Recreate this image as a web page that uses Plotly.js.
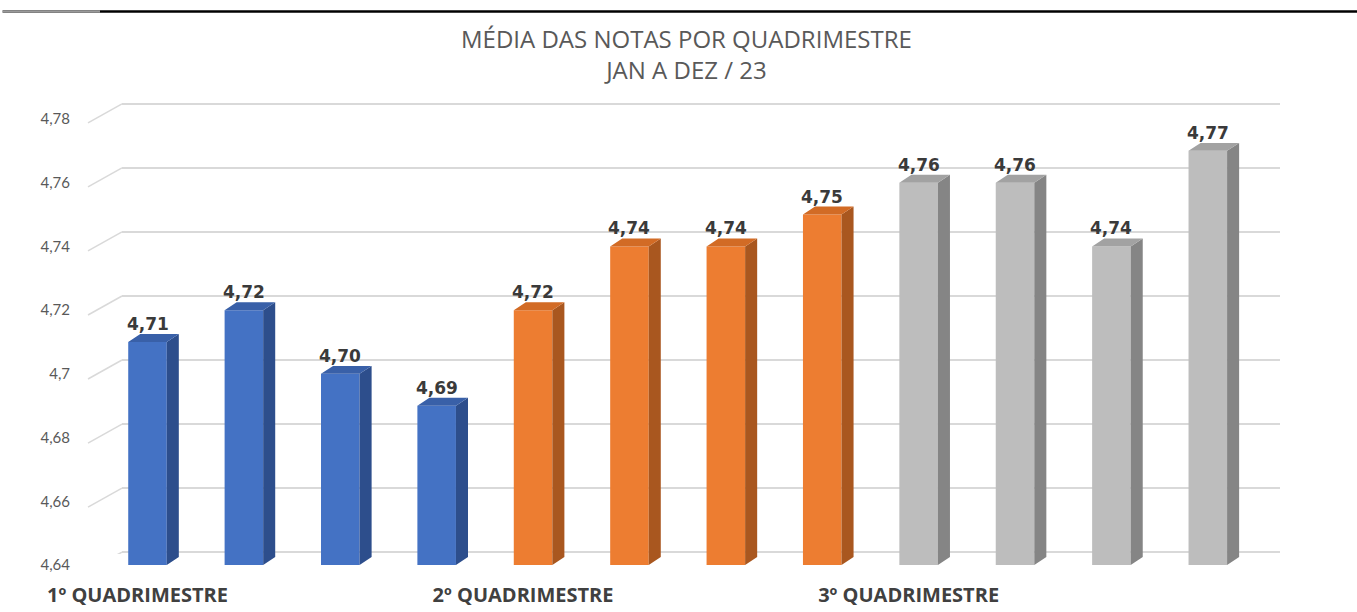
<!DOCTYPE html>
<html>
<head>
<meta charset="utf-8">
<script src="https://cdn.plot.ly/plotly-3.0.1.min.js"></script>
<style>html,body{margin:0;padding:0;background:#fff}#chart{width:1357px;height:612px}</style>
</head>
<body>
<div id="chart"></div>
<script>
const months = ['JAN','FEV','MAR','ABR','MAI','JUN','JUL','AGO','SET','OUT','NOV','DEZ'];
const values = [4.71, 4.72, 4.70, 4.69, 4.72, 4.74, 4.74, 4.75, 4.76, 4.76, 4.74, 4.77];
const groupOfBar = [0,0,0,0,1,1,1,1,2,2,2,2];
const groupLabels = ['1º QUADRIMESTRE','2º QUADRIMESTRE','3º QUADRIMESTRE'];
const groupStart = [0, 4, 8];
const yTicks = [4.64, 4.66, 4.68, 4.70, 4.72, 4.74, 4.76, 4.78];
const titleLines = ['MÉDIA DAS NOTAS POR QUADRIMESTRE', 'JAN A DEZ / 23'];

// styles
const frontColors = ['#4472C4', '#ED7D31', '#BDBDBD'];
const sideColors  = ['#2D4E8C', '#A9571F', '#858585'];
const topColors   = ['#3960A8', '#D26B25', '#A2A2A2'];
const W = 1357, H = 612;
const barW = 0.40, depthX = 0.125, depthY = 0.0025;
const yMin = yTicks[0], yMax = yTicks[yTicks.length - 1];
const eps = 0.0006;
const idx = values.map((v, i) => i);

const traces = [];
traces.push({x: [0], y: [yMin], xaxis: 'x', yaxis: 'y', mode: 'none', type: 'scatter', hoverinfo: 'skip', showlegend: false});

traces.push({
  type: 'bar', x: idx, y: values, width: barW, xaxis: 'x2', yaxis: 'y2',
  marker: {color: idx.map(i => frontColors[groupOfBar[i]]), line: {width: 0}},
  hoverinfo: 'skip', showlegend: false
});

for (let g = 0; g < 3; g++) {
  const sx = [], sy = [], tx = [], ty = [];
  idx.filter(i => groupOfBar[i] === g).forEach(i => {
    const v = values[i], r = i + barW / 2, l = i - barW / 2;
    sx.push(r, r + depthX, r + depthX, r, r, null);
    sy.push(yMin, yMin + depthY, v + depthY, v, yMin, null);
    tx.push(l, r, r + depthX, l + depthX, l, null);
    ty.push(v, v, v + depthY, v + depthY, v, null);
  });
  traces.push({type: 'scatter', x: sx, y: sy, xaxis: 'x2', yaxis: 'y2', mode: 'lines', fill: 'toself',
    fillcolor: sideColors[g], line: {width: 0, color: sideColors[g]}, hoverinfo: 'skip', showlegend: false, cliponaxis: false});
  traces.push({type: 'scatter', x: tx, y: ty, xaxis: 'x2', yaxis: 'y2', mode: 'lines', fill: 'toself',
    fillcolor: topColors[g], line: {width: 0, color: topColors[g]}, hoverinfo: 'skip', showlegend: false, cliponaxis: false});
}

const fmt = v => v.toFixed(2).replace('.', ',');
const annotations = values.map((v, i) => ({
  x: i, y: v, xref: 'x2', yref: 'y2', text: fmt(v), showarrow: false,
  yanchor: 'bottom', yshift: 6,
  font: {family: 'DejaVu Sans', size: 17, color: '#3A3A3A', weight: 'bold'}
}));
annotations.push({
  xref: 'paper', yref: 'paper', x: 686/W, y: 1 - 54/H, xanchor: 'center', yanchor: 'middle',
  text: titleLines.join('<br>'), showarrow: false, align: 'center',
  font: {family: 'Open Sans', size: 24, color: '#595959'}
});

const shapes = [
  {type: 'line', xref: 'paper', yref: 'paper', x0: 0.002, x1: 1, y0: 1 - 11.5/H, y1: 1 - 11.5/H, line: {color: '#000', width: 2.5}},
  {type: 'line', xref: 'paper', yref: 'paper', x0: 0.002, x1: 100/W, y0: 1 - 11.5/H, y1: 1 - 11.5/H, line: {color: '#9a9a9a', width: 2.5}}
];
yTicks.forEach(t => shapes.push({
  type: 'line', xref: 'paper', x0: 88/W, x1: 122/W, yref: 'y', ysizemode: 'pixel', yanchor: t, y0: -19, y1: 0,
  line: {color: '#D9D9D9', width: 1.5}
}));

const layout = {
  width: W, height: H,
  margin: {l: 0, r: 0, t: 0, b: 0},
  paper_bgcolor: '#fff', plot_bgcolor: 'rgba(0,0,0,0)',
  separators: ',.',
  hovermode: false,
  showlegend: false,
  xaxis: {domain: [122/W, 1280/W], range: [0, 1], visible: false, fixedrange: true},
  yaxis: {domain: [58/H, 510/H], range: [yMin - eps, yMax + eps], anchor: 'x', tickvals: yTicks, showticklabels: false,
    showgrid: true, gridcolor: '#D9D9D9', gridwidth: 1.5, zeroline: false, showline: false, ticks: '', fixedrange: true},
  xaxis2: {domain: [99.3/W, 1256/W], range: [-0.5, 11.5], anchor: 'y2', showgrid: false, zeroline: false, showline: false,
    tickvals: groupStart, ticktext: groupLabels, ticks: '', ticklabelshift: -10, ticklabelstandoff: 16,
    tickfont: {family: 'Open Sans', size: 20, color: '#404040', weight: 'bold'}, fixedrange: true},
  yaxis2: {domain: [47/H, 493/H], range: [yMin, yMax], anchor: 'free', position: 70/W, showgrid: false, zeroline: false,
    showline: false, ticks: '', tickvals: yTicks, ticktext: yTicks.map(t => String(t).replace('.', ',')),
    tickfont: {family: 'Lato', size: 15, color: '#595959'}, fixedrange: true},
  annotations: annotations,
  shapes: shapes
};

Plotly.newPlot('chart', traces, layout, {displayModeBar: false, staticPlot: true});
</script>
</body>
</html>
